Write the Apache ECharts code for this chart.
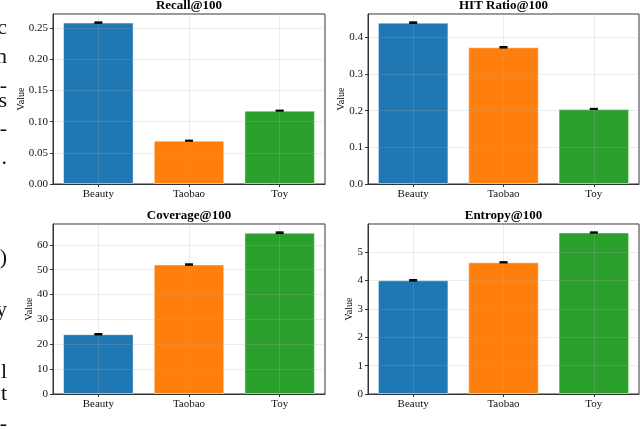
<!DOCTYPE html>
<html><head><meta charset="utf-8">
<script src="https://cdn.jsdelivr.net/npm/echarts@6/dist/echarts.min.js"></script>
<style>html,body{margin:0;padding:0;background:#fff}#c{width:640px;height:429px}</style>
</head><body><div id="c"></div><script>
const categories = ['Beauty', 'Taobao', 'Toy'];
const recall = [0.259, 0.0695, 0.1177];
const recallErr = [0.0008, 0.0005, 0.0005];
const hitRatio = [0.4398, 0.3727, 0.2045];
const hitRatioErr = [0.0015, 0.0015, 0.001];
const coverage = [24.05, 52.1, 64.9];
const coverageErr = [0.2, 0.2, 0.25];
const entropy = [4.005, 4.64, 5.69];
const entropyErr = [0.02, 0.015, 0.015];
const titles = ['Recall@100', 'HIT Ratio@100', 'Coverage@100', 'Entropy@100'];
const yIntervals = [0.05, 0.1, 10, 1];
const yDecimals = [2, 1, 0, 0];
const colors = ['#1f77b4', '#ff7f0e', '#2ca02c'];

const panels = [
  {vals: recall, err: recallErr},
  {vals: hitRatio, err: hitRatioErr},
  {vals: coverage, err: coverageErr},
  {vals: entropy, err: entropyErr}
];
const boxes = [
  {left: 53, top: 14, width: 272, height: 170},
  {left: 368, top: 14, width: 271, height: 170},
  {left: 53, top: 224, width: 272, height: 170},
  {left: 368, top: 224, width: 271, height: 170}
];
const FONT = '"Liberation Serif", "DejaVu Serif", serif';

const grid = [], xAxis = [], yAxis = [], series = [], graphic = [];
panels.forEach((p, k) => {
  const b = boxes[k];
  grid.push({left: b.left, top: b.top, width: b.width, height: b.height, show: true,
    borderColor: '#333', borderWidth: 1, backgroundColor: 'transparent', containLabel: false});
  const ymax = Math.max(...p.vals.map((v, i) => v + p.err[i])) * 1.05;
  xAxis.push({type: 'category', gridIndex: k, data: categories, z: 3,
    axisLine: {lineStyle: {color: '#333', width: 1}},
    axisTick: {show: true, alignWithLabel: true, length: 3, lineStyle: {color: '#333'}},
    axisLabel: {color: '#111', fontFamily: FONT, fontSize: 11, margin: 5},
    splitLine: {show: true, alignWithLabel: true, lineStyle: {color: '#b0b0b0', opacity: 0.3, width: 0.8}}
  });
  yAxis.push({type: 'value', gridIndex: k, min: 0, max: ymax, interval: yIntervals[k], z: 3,
    axisLine: {show: true, lineStyle: {color: '#333', width: 1}},
    axisTick: {show: true, length: 3, lineStyle: {color: '#333'}},
    axisLabel: {color: '#111', fontFamily: FONT, fontSize: 11, margin: 5, showMaxLabel: false,
      formatter: v => v.toFixed(yDecimals[k])},
    splitLine: {show: true, lineStyle: {color: '#b0b0b0', opacity: 0.3, width: 0.8}}
  });
  series.push({type: 'bar', xAxisIndex: k, yAxisIndex: k, barWidth: 70.5, z: 2,
    data: p.vals.map((v, i) => ({value: v, itemStyle: {color: colors[i]}})),
    itemStyle: {borderColor: 'rgba(255,255,255,0.45)', borderWidth: 1},
    emphasis: {disabled: true}, silent: true
  });
  series.push({type: 'custom', xAxisIndex: k, yAxisIndex: k, z: 10, silent: true,
    data: p.vals.map((v, i) => [i, v, p.err[i]]),
    encode: {x: 0, y: 1},
    renderItem: (params, api) => {
      const i = api.value(0), v = api.value(1), e = api.value(2);
      const top = api.coord([i, v + e]);
      const bot = api.coord([i, v - e]);
      const x = top[0], h = 4;
      const st = {stroke: '#000', lineWidth: 1.5};
      return {type: 'group', children: [
        {type: 'line', shape: {x1: x, y1: top[1], x2: x, y2: bot[1]}, style: st},
        {type: 'line', shape: {x1: x - h, y1: top[1], x2: x + h, y2: top[1]}, style: st},
        {type: 'line', shape: {x1: x - h, y1: bot[1], x2: x + h, y2: bot[1]}, style: st}
      ]};
    }
  });
  graphic.push({type: 'text', x: b.left + b.width / 2, y: b.top - 8.5,
    style: {text: titles[k], font: 'bold 13px ' + FONT, fill: '#000', textAlign: 'center', textVerticalAlign: 'middle'}});
  graphic.push({type: 'text', x: b.left - (k % 2 === 0 ? (k < 2 ? 32 : 24) : (k < 2 ? 27 : 19)), y: b.top + b.height / 2,
    rotation: Math.PI / 2,
    style: {text: 'Value', font: '10px ' + FONT, fill: '#000', textAlign: 'center', textVerticalAlign: 'middle'}});
});

// cropped fragments of surrounding page text at the left edge
const frags = [['c', 28], ['n', 57], ['-', 86], ['s', 101], ['-', 129], ['.', 158], [')', 258], ['y', 310], ['l', 372], ['t', 394], ['-', 424]];
frags.forEach(f => graphic.push({type: 'text', x: 7, y: f[1], style: {text: f[0], font: '22px ' + FONT, fill: '#111', textAlign: 'right', textVerticalAlign: 'middle'}}));

const chart = echarts.init(document.getElementById('c'), null, {renderer: 'canvas'});
chart.setOption({animation: false, backgroundColor: '#fff', grid, xAxis, yAxis, series, graphic});
</script></body></html>
